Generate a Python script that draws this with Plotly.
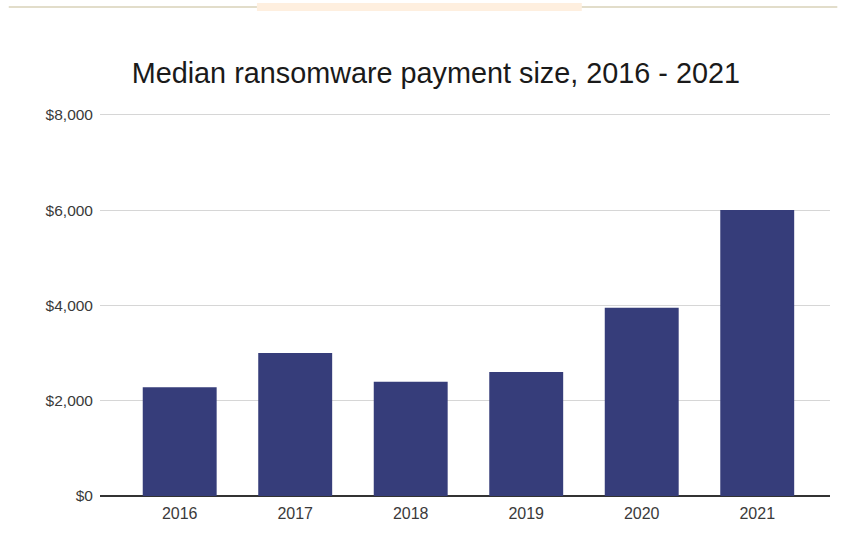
import plotly.graph_objects as go

# Median ransomware payment size by year (USD)
years = ["2016", "2017", "2018", "2019", "2020", "2021"]
median_payment = [2280, 3000, 2400, 2600, 3950, 6000]
y_ticks = [0, 2000, 4000, 6000, 8000]
y_tick_labels = ["$0", "$2,000", "$4,000", "$6,000", "$8,000"]

BAR_COLOR = "#363d7a"
FONT = "Liberation Sans, Arial, sans-serif"

fig = go.Figure(
    go.Bar(
        x=list(range(len(years))),
        y=median_payment,
        marker=dict(color=BAR_COLOR, line=dict(width=0)),
        hovertemplate="%{text}: $%{y:,}<extra></extra>",
        text=years,
        textposition="none",
    )
)

fig.update_layout(
    width=843,
    height=546,
    paper_bgcolor="white",
    plot_bgcolor="white",
    margin=dict(l=100, r=13, t=111, b=50),
    bargap=0.36,
    showlegend=False,
    font=dict(family=FONT, color="#444444"),
    title=dict(
        text="Median ransomware payment size, 2016 - 2021",
        font=dict(family=FONT, size=28.8, color="#1a1a1a"),
        x=0.517,
        xref="container",
        xanchor="center",
        y=1 - 73 / 546,
        yref="container",
        yanchor="middle",
    ),
    xaxis=dict(
        tickmode="array",
        tickvals=list(range(len(years))),
        ticktext=years,
        range=[-0.69, 5.63],
        showgrid=False,
        zeroline=False,
        showline=False,
        ticks="",
        tickfont=dict(size=16, color="#3a3a3a"),
        ticklabelstandoff=6,
    ),
    yaxis=dict(
        range=[0, 8080],
        tickmode="array",
        tickvals=y_ticks,
        ticktext=y_tick_labels,
        showgrid=True,
        gridcolor="#d6d6d6",
        gridwidth=1,
        zeroline=True,
        zerolinecolor="#333333",
        zerolinewidth=1.5,
        showline=False,
        ticks="",
        tickfont=dict(size=15.5, color="#3a3a3a"),
        ticklabelstandoff=6,
    ),
    shapes=[
        # thin decorative rule across the top of the page
        dict(type="line", xref="paper", yref="paper",
             x0=-0.125, x1=0.215, y0=1 + 104 / 385, y1=1 + 104 / 385,
             line=dict(color="#d8d2b8", width=1.5)),
        dict(type="rect", xref="paper", yref="paper",
             x0=0.215, x1=0.66, y0=1 + 100 / 385, y1=1 + 108 / 385,
             fillcolor="#fde8d2", line=dict(width=0), opacity=0.7),
        dict(type="line", xref="paper", yref="paper",
             x0=0.66, x1=1.01, y0=1 + 104 / 385, y1=1 + 104 / 385,
             line=dict(color="#d8d2b8", width=1.5)),
    ],
)

fig.write_html("out.html")
